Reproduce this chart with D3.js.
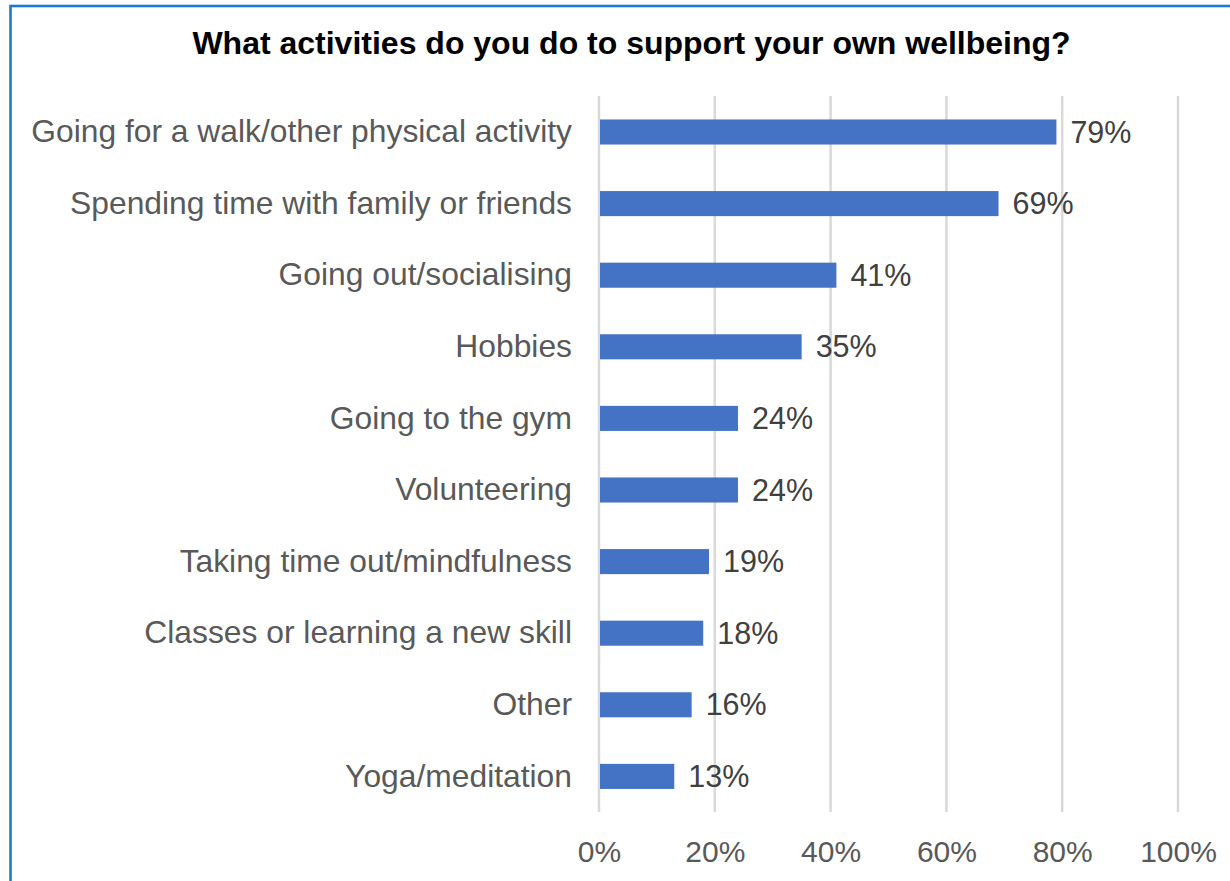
<!DOCTYPE html>
<html>
<head>
<meta charset="utf-8">
<script src="https://cdn.jsdelivr.net/npm/d3@7"></script>
<style>
  html, body { margin: 0; padding: 0; background: #fff; }
  svg { display: block; }
  text { font-family: "Liberation Sans", Arial, sans-serif; }
</style>
</head>
<body>
<svg id="chart" width="1230" height="881"></svg>
<script>
// Survey responses: share of respondents doing each activity
const categories = [
  "Going for a walk/other physical activity",
  "Spending time with family or friends",
  "Going out/socialising",
  "Hobbies",
  "Going to the gym",
  "Volunteering",
  "Taking time out/mindfulness",
  "Classes or learning a new skill",
  "Other",
  "Yoga/meditation"
];
const values = [0.79, 0.69, 0.41, 0.35, 0.24, 0.24, 0.19, 0.18, 0.16, 0.13];
const tickValues = [0, 0.2, 0.4, 0.6, 0.8, 1.0];
const title = "What activities do you do to support your own wellbeing?";

const svg = d3.select("#chart");

// Outer frame (top and left edges fall inside the canvas)
svg.append("rect")
  .attr("x", 10.5).attr("y", 6)
  .attr("width", 1300).attr("height", 1000)
  .attr("fill", "none")
  .attr("stroke", "#1e78d0")
  .attr("stroke-width", 2.6);

svg.append("text")
  .attr("x", 631.5).attr("y", 54)
  .attr("text-anchor", "middle")
  .attr("font-weight", "bold")
  .attr("font-size", 32)
  .attr("fill", "#000")
  .text(title);

const x = d3.scaleLinear().domain([0, 1]).range([599, 1178]);
const y = d3.scaleBand().domain(categories).range([96.2, 812.2]).paddingInner(0.65).paddingOuter(0.325);

// Vertical gridlines
svg.append("g")
  .selectAll("line")
  .data(tickValues)
  .join("line")
  .attr("x1", d => x(d)).attr("x2", d => x(d))
  .attr("y1", 96).attr("y2", 812)
  .attr("stroke", "#d9d9d9")
  .attr("stroke-width", 2.5);

// X axis tick labels
const xAxis = d3.axisBottom(x)
  .tickValues(tickValues)
  .tickFormat(d3.format(".0%"))
  .tickSize(0)
  .tickPadding(0);
const gx = svg.append("g").attr("transform", "translate(0,862)").call(xAxis);
gx.select(".domain").remove();
gx.selectAll("text")
  .attr("font-size", 30)
  .attr("fill", "#595959")
  .attr("dy", "0")
  .style("font-family", "'Liberation Sans', Arial, sans-serif");

// Category labels
const yAxis = d3.axisLeft(y).tickSize(0).tickPadding(0);
const gy = svg.append("g").attr("transform", "translate(572,0)").call(yAxis);
gy.select(".domain").remove();
gy.selectAll("text")
  .attr("font-size", 31.8)
  .attr("fill", "#595959")
  .style("font-family", "'Liberation Sans', Arial, sans-serif");

// Bars
svg.append("g")
  .selectAll("rect")
  .data(values)
  .join("rect")
  .attr("x", x(0) + 1)
  .attr("y", (d, i) => y(categories[i]))
  .attr("width", d => x(d) - x(0) - 1)
  .attr("height", y.bandwidth())
  .attr("fill", "#4472c4");

// Value labels
svg.append("g")
  .selectAll("text")
  .data(values)
  .join("text")
  .attr("x", d => x(d) + 14)
  .attr("y", (d, i) => y(categories[i]) + y.bandwidth() / 2)
  .attr("dy", "0.35em")
  .attr("font-size", 30.5)
  .attr("fill", "#404040")
  .text(d => d3.format(".0%")(d));
</script>
</body>
</html>
